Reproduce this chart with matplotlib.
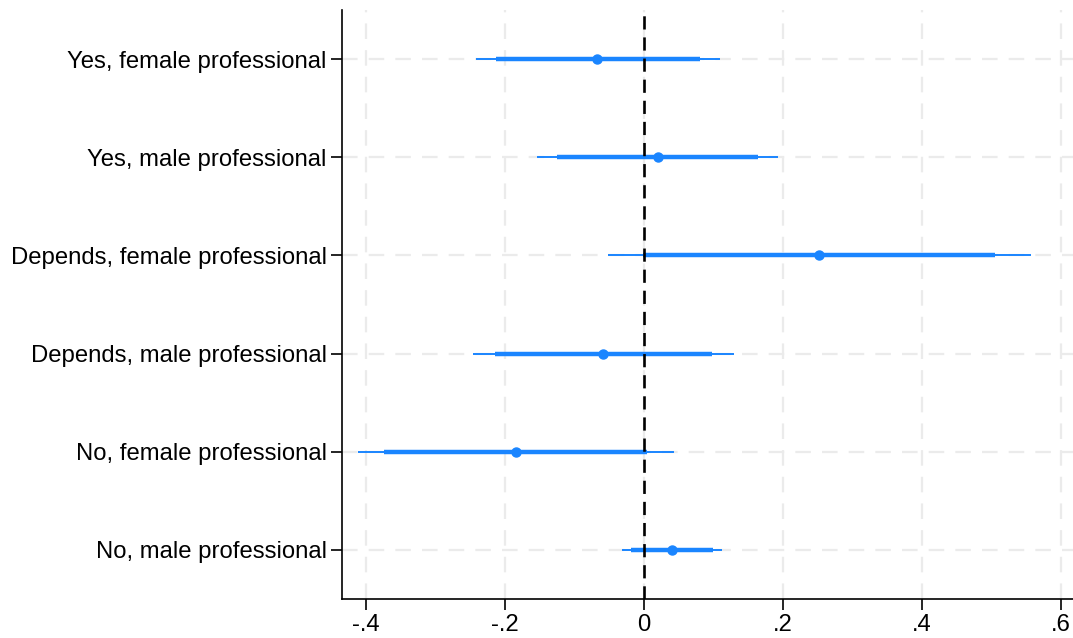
import matplotlib.pyplot as plt
import numpy as np

plt.rcParams['font.family'] = ['Liberation Sans', 'DejaVu Sans']

# Coefficients with 90% (thick) and 95% (thin) confidence intervals
labels = ["Yes, female professional", "Yes, male professional",
          "Depends, female professional", "Depends, male professional",
          "No, female professional", "No, male professional"]
coef  = [-0.067, 0.021, 0.252, -0.059, -0.184, 0.040]
lo95  = [-0.242, -0.153, -0.051, -0.246, -0.411, -0.031]
hi95  = [0.109, 0.193, 0.556, 0.129, 0.044, 0.112]
lo90  = [-0.213, -0.125, -0.001, -0.214, -0.373, -0.019]
hi90  = [0.081, 0.164, 0.505, 0.098, 0.005, 0.100]
xticks = [-0.4, -0.2, 0, 0.2, 0.4, 0.6]
xticklabels = ["-.4", "-.2", "0", ".2", ".4", ".6"]

BLUE = "#1a85ff"
GRID = "#ebebeb"

fig = plt.figure(figsize=(10.73, 6.38), dpi=100)
ax = fig.add_axes([342/1073, 1-599/638, (1073-342)/1073, (599-10)/638])

ypos = np.arange(1, len(labels)+1)

for y in ypos:
    ax.axhline(y, color=GRID, lw=1.6, ls=(0, (7, 5)), zorder=0)
for x in xticks:
    ax.axvline(x, color=GRID, lw=1.6, ls=(0, (7, 5)), zorder=0)

ax.hlines(ypos, lo95, hi95, color=BLUE, lw=1.4, zorder=2)
ax.hlines(ypos, lo90, hi90, color=BLUE, lw=3.2, zorder=3)
ax.axvline(0, color="black", lw=1.9, ls=(0, (5, 3)), zorder=4)
ax.plot(coef, ypos, "o", color=BLUE, ms=6.5, zorder=5)

ax.set_ylim(6.5, 0.5)
ax.set_xlim(-0.434, 0.617)
ax.set_yticks(ypos)
ax.set_yticklabels(labels)
ax.set_xticks(xticks)
ax.set_xticklabels(xticklabels)
ax.tick_params(axis="both", labelsize=17.2, length=8, width=1.2, pad=3)

for s in ["top", "right"]:
    ax.spines[s].set_visible(False)
for s in ["left", "bottom"]:
    ax.spines[s].set_linewidth(1.2)

fig.savefig("out.png", dpi=100)
